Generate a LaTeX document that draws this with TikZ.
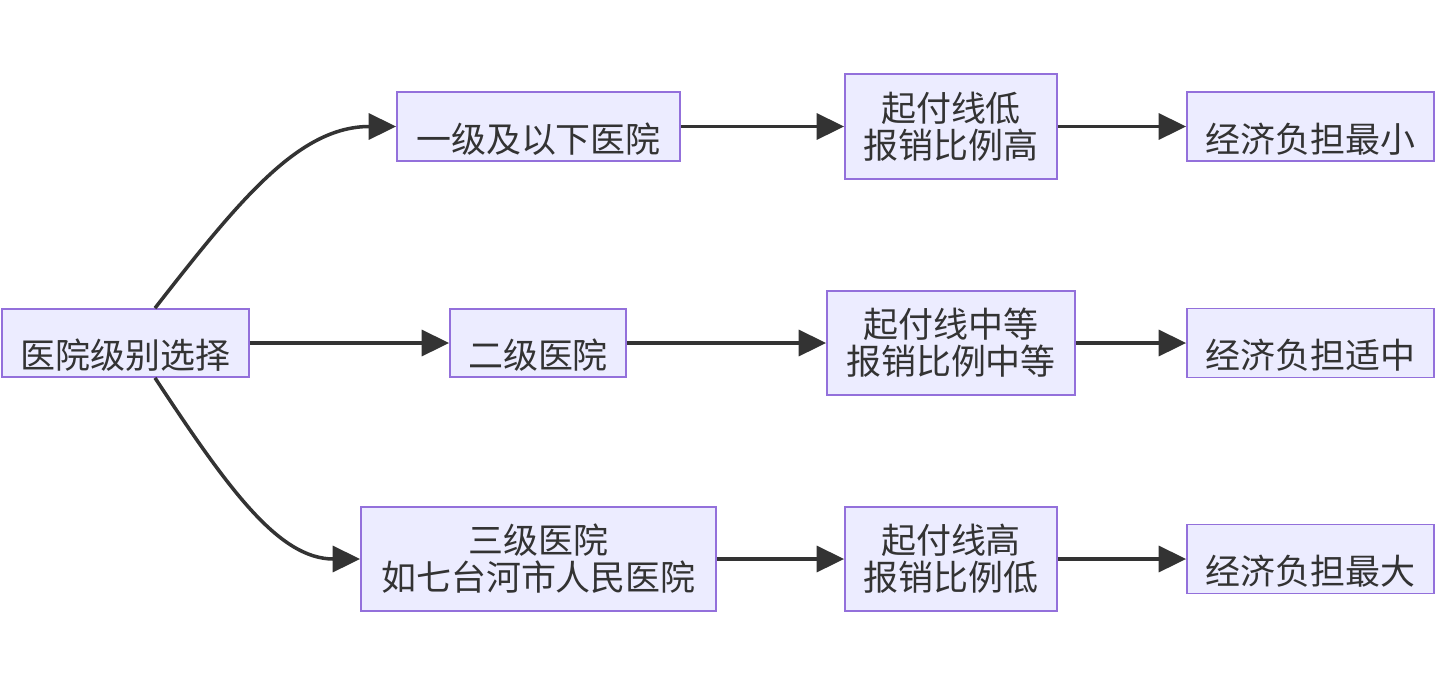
\documentclass[tikz,border=0pt]{standalone}
\usepackage{fontspec}
\setmainfont{Noto Sans CJK SC}
\usepackage{tikz}
\usetikzlibrary{calc,positioning,arrows.meta}

\definecolor{boxfill}{HTML}{ECECFF}
\definecolor{boxline}{HTML}{9370DB}
\definecolor{edgecol}{HTML}{333333}

\begin{document}
\begin{tikzpicture}[
		box/.style={draw=boxline, fill=boxfill, line width=1pt, inner sep=0.1cm,
			text=edgecol, font=\fontsize{19.9}{21}\selectfont, align=center},
		oneline/.style={box, text height=1.02cm, text depth=0pt},
		flow/.style={-{Triangle[length=0.55cm,width=0.52cm]}, draw=edgecol, line width=2pt}
	]
		\useasboundingbox (0,0) rectangle (28.88,-13.64);

		\node[oneline, minimum width=4.94cm, minimum height=1.36cm] (yiyuan) at (2.51,-6.86) {医院级别选择};

		\node[oneline, minimum width=5.66cm, minimum height=1.38cm] (yiji) at (10.77,-2.53) {一级及以下医院};
		\node[oneline, minimum width=3.52cm, minimum height=1.36cm] (erji) at (10.76,-6.86) {二级医院};
		\node[box, minimum width=7.10cm, minimum height=2.08cm] (sanji) at (10.77,-11.18) {三级医院\\如七台河市人民医院};

		\node[box, minimum width=4.24cm, minimum height=2.10cm] (qifudi) at (19.02,-2.53) {起付线低\\报销比例高};
		\node[box, minimum width=4.96cm, minimum height=2.08cm] (qifuzhong) at (19.02,-6.86) {起付线中等\\报销比例中等};
		\node[box, minimum width=4.24cm, minimum height=2.08cm] (qifugao) at (19.02,-11.18) {起付线高\\报销比例低};

		\node[oneline, minimum width=4.94cm, minimum height=1.38cm] (fudanxiao) at (26.21,-2.53) {经济负担最小};
		\node[oneline, minimum width=4.94cm, minimum height=1.38cm] (fudanzhong) at (26.21,-6.86) {经济负担适中};
		\node[oneline, minimum width=4.94cm, minimum height=1.38cm] (fudanda) at (26.21,-11.18) {经济负担最大};

		\draw[flow] ([xshift=0.59cm]yiyuan.north) .. controls +(1.7,2.18) and +(-1.94,0) .. (yiji.west);
		\draw[flow] (yiyuan) -- (erji);
		\draw[flow] ([xshift=0.59cm]yiyuan.south) .. controls +(1.44,-2.18) and +(-1.64,0) .. (sanji.west);

		\draw[flow] (yiji) -- (qifudi);
		\draw[flow] (erji) -- (qifuzhong);
		\draw[flow] (sanji) -- (qifugao);

		\draw[flow] (qifudi) -- (fudanxiao);
		\draw[flow] (qifuzhong) -- (fudanzhong);
		\draw[flow] (qifugao) -- (fudanda);
	\end{tikzpicture}
\end{document}
